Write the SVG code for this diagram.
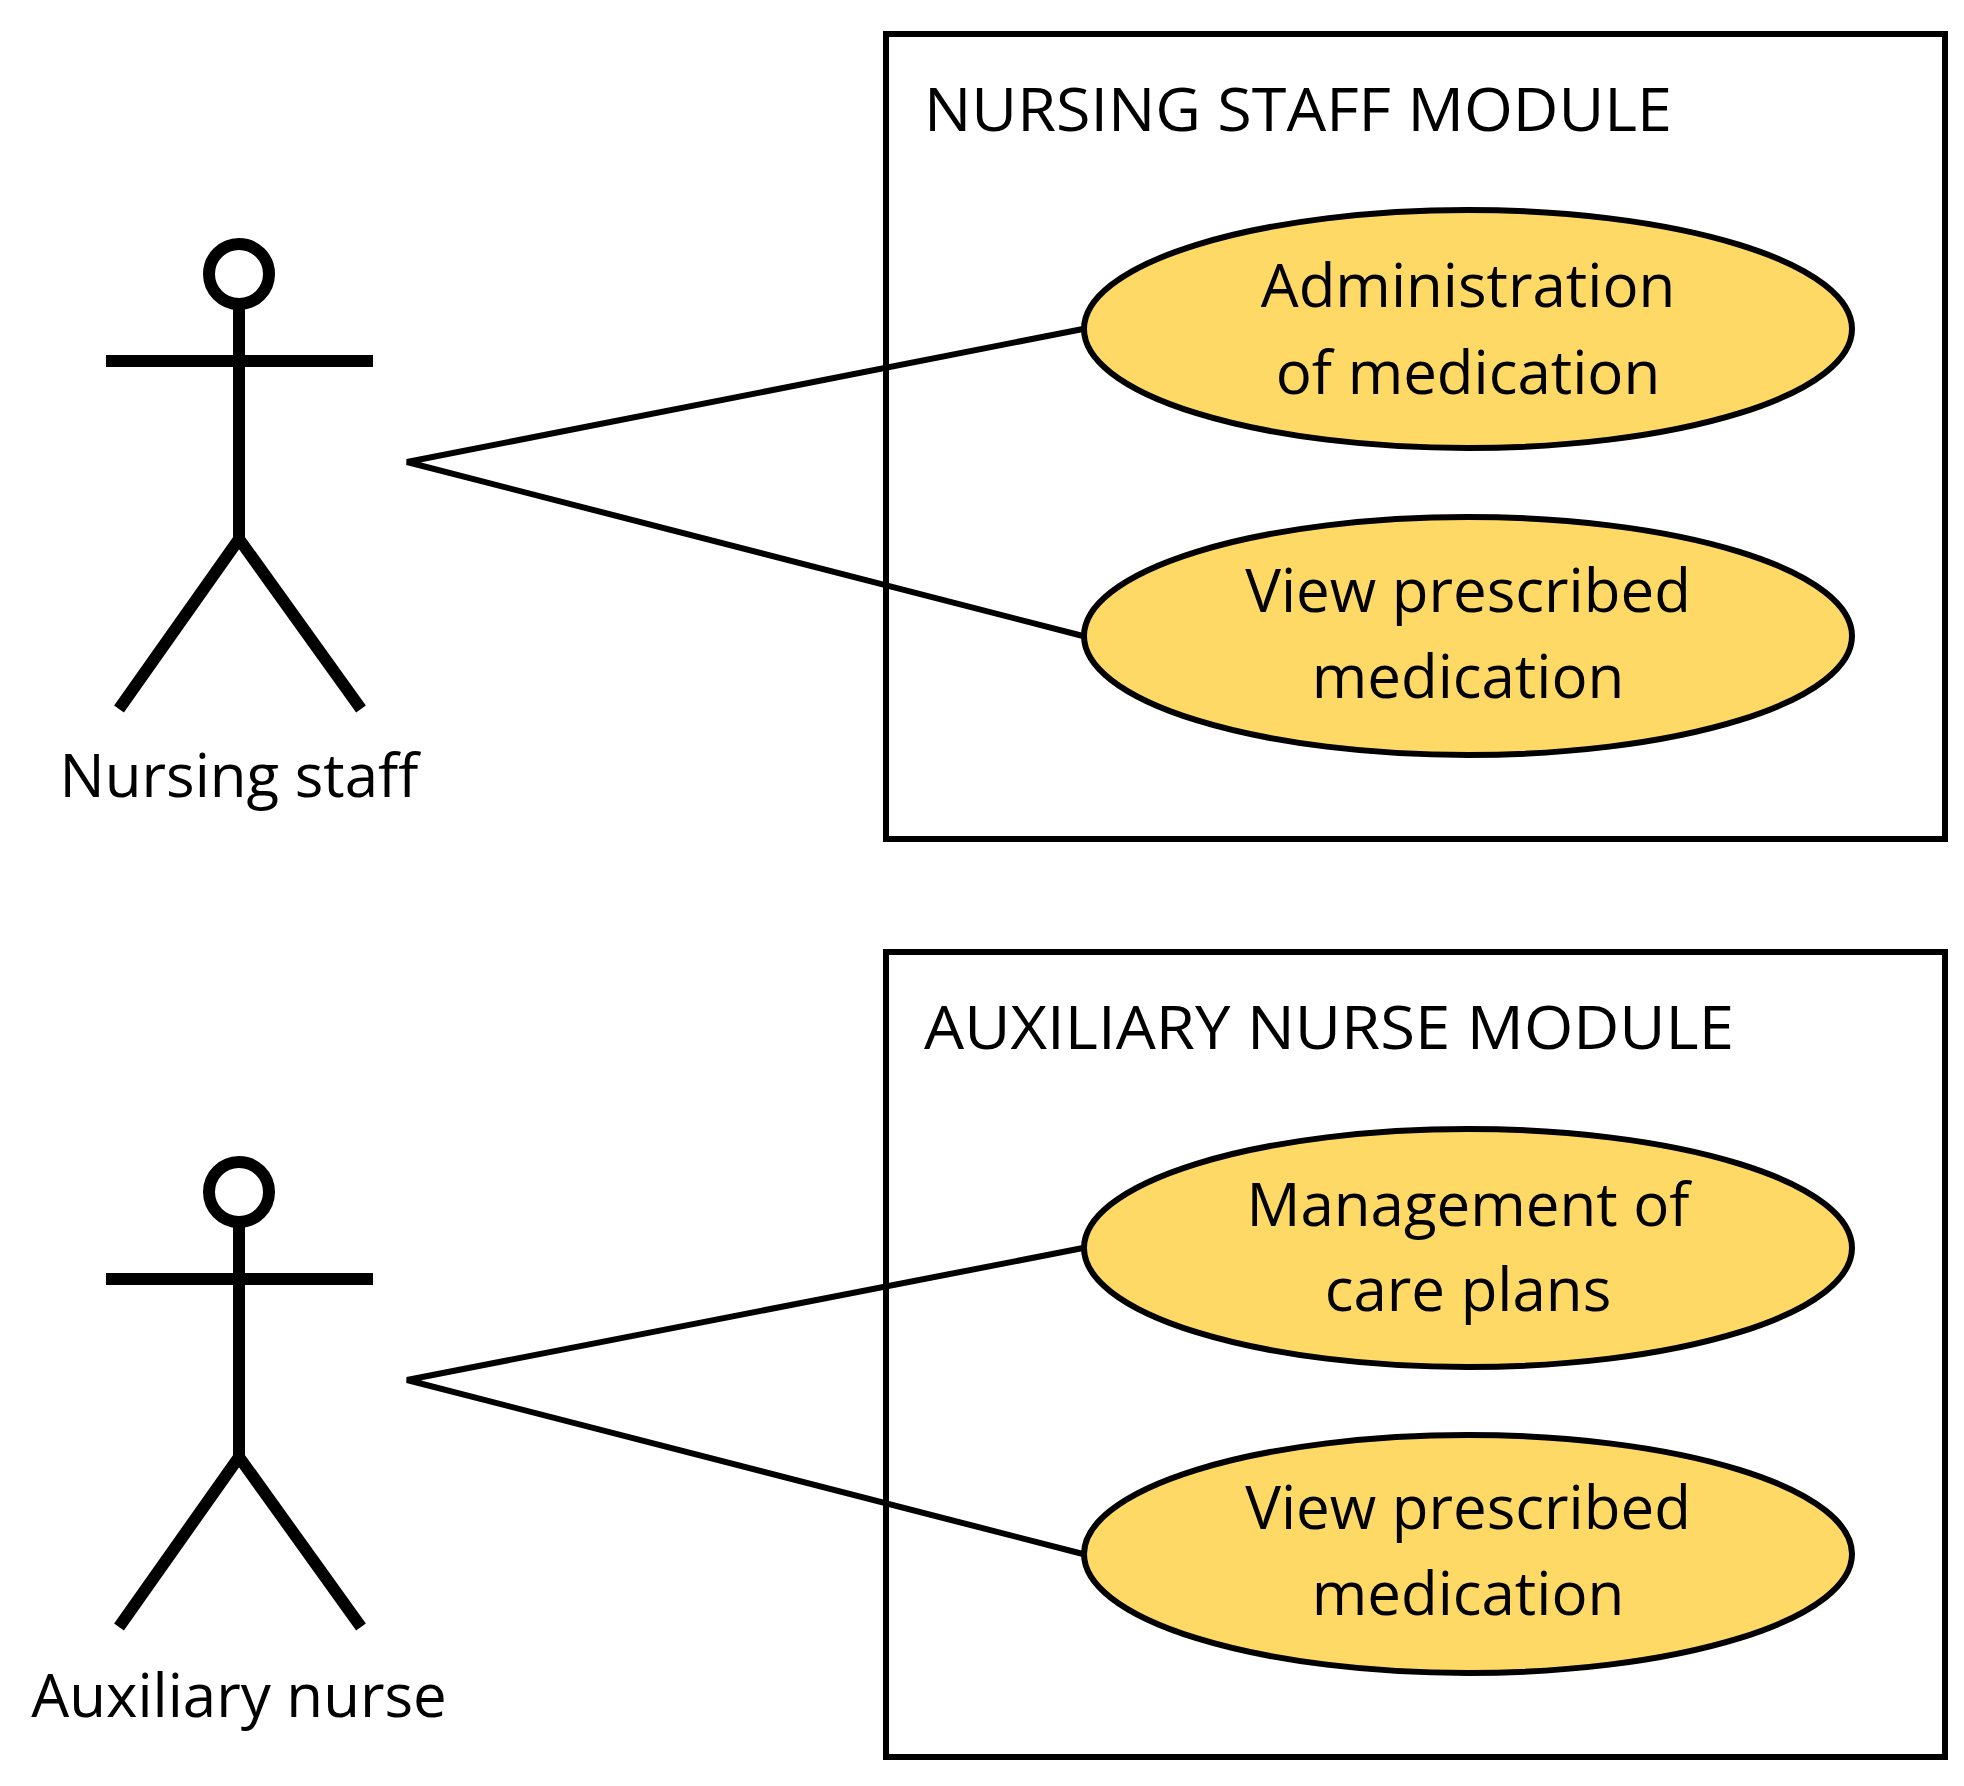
<svg xmlns="http://www.w3.org/2000/svg" width="1964" height="1786" viewBox="0 0 1964 1786">
<style>
.box{fill:none;stroke:#000;stroke-width:6}
.uc{fill:#FFD966;stroke:#000;stroke-width:6}
.act{fill:none;stroke:#000;stroke-width:12}
.t{font-family:"Open Sans","Liberation Sans",sans-serif;font-size:60px;fill:#000}
.c{text-anchor:middle}
.ln{stroke:#000;stroke-width:6;fill:none}
</style>
<rect width="1964" height="1786" fill="#fff"/>
<g id="module1"><rect class="box" x="886" y="34" width="1059" height="805"/><text class="t" x="924" y="131" textLength="748" lengthAdjust="spacingAndGlyphs">NURSING STAFF MODULE</text></g>
<g id="module2"><rect class="box" x="886" y="952" width="1059" height="805"/><text class="t" x="924" y="1049" textLength="810" lengthAdjust="spacingAndGlyphs">AUXILIARY NURSE MODULE</text></g>
<g id="connectors">
<polyline class="ln" points="1083,329 407,462 1083,636"/>
<polyline class="ln" points="1083,1248 407,1380 1083,1554"/>
</g>
<g id="uc1"><ellipse class="uc" cx="1468" cy="329" rx="384" ry="119"/><text class="t c" x="1468" y="307">Administration</text><text class="t c" x="1468" y="394">of medication</text></g>
<g id="uc2"><ellipse class="uc" cx="1468" cy="636" rx="384" ry="119"/><text class="t c" x="1468" y="612">View prescribed</text><text class="t c" x="1468" y="698">medication</text></g>
<g id="uc3"><ellipse class="uc" cx="1468" cy="1248" rx="384" ry="119"/><text class="t c" x="1468" y="1226">Management of</text><text class="t c" x="1468" y="1311">care plans</text></g>
<g id="uc4"><ellipse class="uc" cx="1468" cy="1554" rx="384" ry="119"/><text class="t c" x="1468" y="1529">View prescribed</text><text class="t c" x="1468" y="1615">medication</text></g>
<g id="actor1"><circle class="act" cx="239" cy="274" r="30"/><path class="act" d="M106,361H373M239,304V539M119,709L239,539L361,709"/><text class="t c" x="239" y="797">Nursing staff</text></g>
<g id="actor2"><circle class="act" cx="239" cy="1192" r="30"/><path class="act" d="M106,1279H373M239,1222V1457M119,1627L239,1457L361,1627"/><text class="t c" x="239" y="1717">Auxiliary nurse</text></g>
</svg>
